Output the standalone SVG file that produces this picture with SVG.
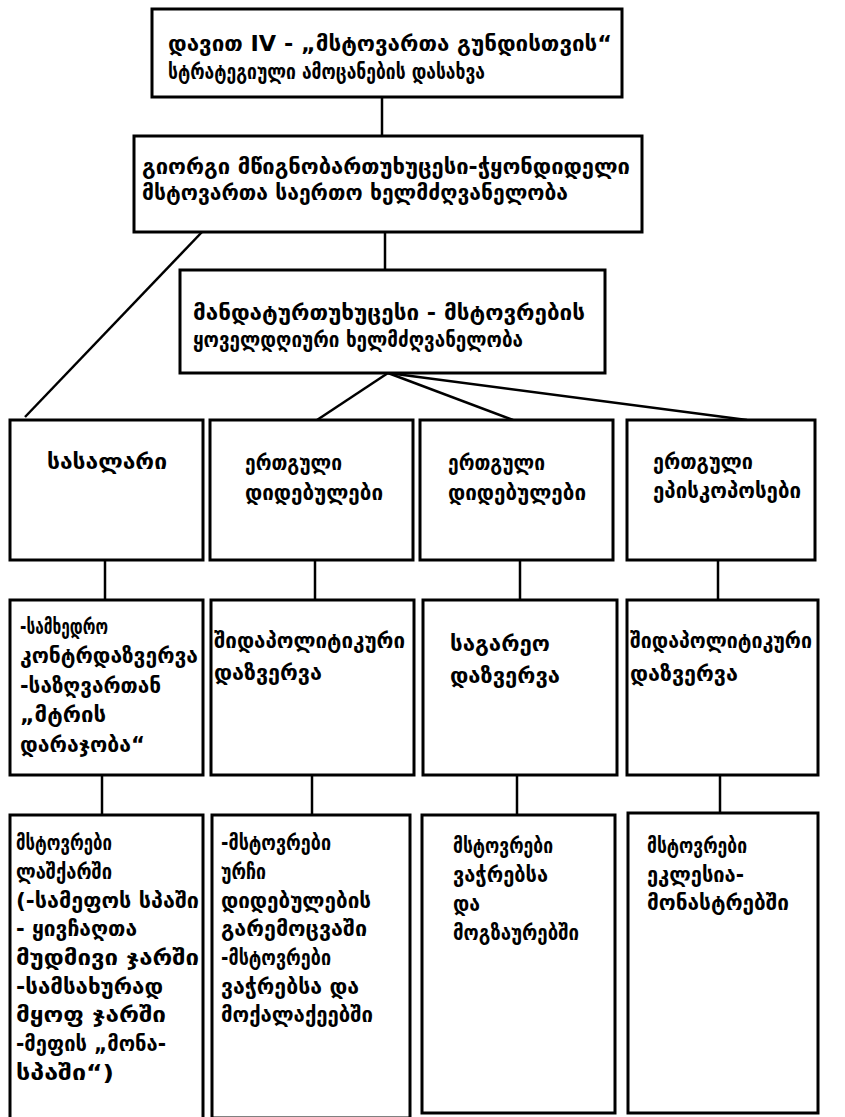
<svg xmlns="http://www.w3.org/2000/svg" width="845" height="1117" viewBox="0 0 845 1117">
<style>
.box{fill:#fff;stroke:#000;stroke-width:3}
.t{font-family:"DejaVu Sans","Noto Sans",sans-serif;font-size:22px;font-weight:bold;fill:#000}
.c{stroke:#000;stroke-width:2.5;fill:none}
</style>
<rect width="845" height="1117" fill="#fff"/>
<g id="connectors">
<line class="c" x1="382" y1="97" x2="382" y2="136"/>
<line class="c" x1="385" y1="232" x2="385" y2="270"/>
<line class="c" x1="202" y1="232" x2="25" y2="417"/>
<line class="c" x1="388" y1="373" x2="317" y2="420"/>
<line class="c" x1="388" y1="373" x2="513" y2="420"/>
<line class="c" x1="388" y1="373" x2="747" y2="420"/>
<line class="c" x1="105" y1="560" x2="105" y2="600"/>
<line class="c" x1="315" y1="560" x2="315" y2="600"/>
<line class="c" x1="520" y1="560" x2="520" y2="600"/>
<line class="c" x1="718" y1="560" x2="718" y2="600"/>
<line class="c" x1="102" y1="775" x2="102" y2="815"/>
<line class="c" x1="312" y1="775" x2="312" y2="815"/>
<line class="c" x1="517" y1="775" x2="517" y2="815"/>
<line class="c" x1="720" y1="775" x2="720" y2="813"/>
</g>
<g id="n1"><rect class="box" x="152" y="9" width="470" height="88"/>
<text class="t" x="168" y="51" textLength="444" lengthAdjust="spacingAndGlyphs">დავით IV - „მსტოვართა გუნდისთვის“</text>
<text class="t" x="168" y="79" textLength="317" lengthAdjust="spacingAndGlyphs">სტრატეგიული ამოცანების დასახვა</text></g>
<g id="n2"><rect class="box" x="134" y="136" width="508" height="96"/>
<text class="t" x="142" y="174" textLength="488" lengthAdjust="spacingAndGlyphs">გიორგი მწიგნობართუხუცესი-ჭყონდიდელი</text>
<text class="t" x="142" y="200" textLength="426" lengthAdjust="spacingAndGlyphs">მსტოვართა საერთო ხელმძღვანელობა</text></g>
<g id="n3"><rect class="box" x="180" y="270" width="425" height="103"/>
<text class="t" x="193" y="320" textLength="392" lengthAdjust="spacingAndGlyphs">მანდატურთუხუცესი - მსტოვრების</text>
<text class="t" x="193" y="347" textLength="330" lengthAdjust="spacingAndGlyphs">ყოველდღიური ხელმძღვანელობა</text></g>
<g id="b1"><rect class="box" x="10" y="420" width="193" height="140"/>
<text class="t" x="47" y="469" textLength="120" lengthAdjust="spacingAndGlyphs">სასალარი</text></g>
<g id="b2"><rect class="box" x="210" y="420" width="203" height="140"/>
<text class="t" x="245" y="470" textLength="97" lengthAdjust="spacingAndGlyphs">ერთგული</text>
<text class="t" x="245" y="500" textLength="138" lengthAdjust="spacingAndGlyphs">დიდებულები</text></g>
<g id="b3"><rect class="box" x="420" y="420" width="193" height="140"/>
<text class="t" x="448" y="470" textLength="97" lengthAdjust="spacingAndGlyphs">ერთგული</text>
<text class="t" x="448" y="500" textLength="138" lengthAdjust="spacingAndGlyphs">დიდებულები</text></g>
<g id="b4"><rect class="box" x="627" y="420" width="188" height="140"/>
<text class="t" x="653" y="469" textLength="100" lengthAdjust="spacingAndGlyphs">ერთგული</text>
<text class="t" x="653" y="498" textLength="148" lengthAdjust="spacingAndGlyphs">ეპისკოპოსები</text></g>
<g id="c1"><rect class="box" x="10" y="600" width="193" height="175"/>
<text class="t" x="20" y="634" textLength="88" lengthAdjust="spacingAndGlyphs">-სამხედრო</text>
<text class="t" x="20" y="663" textLength="178" lengthAdjust="spacingAndGlyphs">კონტრდაზვერვა</text>
<text class="t" x="20" y="693" textLength="141" lengthAdjust="spacingAndGlyphs">-საზღვართან</text>
<text class="t" x="20" y="722" textLength="86" lengthAdjust="spacingAndGlyphs">„მტრის</text>
<text class="t" x="20" y="752" textLength="125" lengthAdjust="spacingAndGlyphs">დარაჯობა“</text></g>
<g id="c2"><rect class="box" x="211" y="600" width="203" height="175"/>
<text class="t" x="214" y="648" textLength="191" lengthAdjust="spacingAndGlyphs">შიდაპოლიტიკური</text>
<text class="t" x="214" y="680" textLength="108" lengthAdjust="spacingAndGlyphs">დაზვერვა</text></g>
<g id="c3"><rect class="box" x="423" y="600" width="194" height="175"/>
<text class="t" x="450" y="651" textLength="100" lengthAdjust="spacingAndGlyphs">საგარეო</text>
<text class="t" x="450" y="683" textLength="110" lengthAdjust="spacingAndGlyphs">დაზვერვა</text></g>
<g id="c4"><rect class="box" x="627" y="600" width="191" height="175"/>
<text class="t" x="630" y="648" textLength="182" lengthAdjust="spacingAndGlyphs">შიდაპოლიტიკური</text>
<text class="t" x="630" y="681" textLength="108" lengthAdjust="spacingAndGlyphs">დაზვერვა</text></g>
<g id="d1"><rect class="box" x="10" y="815" width="193" height="305"/>
<text class="t" x="16" y="850" textLength="96" lengthAdjust="spacingAndGlyphs">მსტოვრები</text>
<text class="t" x="16" y="879" textLength="96" lengthAdjust="spacingAndGlyphs">ლაშქარში</text>
<text class="t" x="16" y="908" textLength="183" lengthAdjust="spacingAndGlyphs">(-სამეფოს სპაში</text>
<text class="t" x="16" y="936" textLength="121" lengthAdjust="spacingAndGlyphs">- ყივჩაღთა</text>
<text class="t" x="16" y="965" textLength="183" lengthAdjust="spacingAndGlyphs">მუდმივი ჯარში</text>
<text class="t" x="16" y="994" textLength="147" lengthAdjust="spacingAndGlyphs">-სამსახურად</text>
<text class="t" x="16" y="1022" textLength="150" lengthAdjust="spacingAndGlyphs">მყოფ ჯარში</text>
<text class="t" x="16" y="1051" textLength="150" lengthAdjust="spacingAndGlyphs">-მეფის „მონა-</text>
<text class="t" x="16" y="1080" textLength="98" lengthAdjust="spacingAndGlyphs">სპაში“)</text></g>
<g id="d2"><rect class="box" x="212" y="815" width="198" height="303"/>
<text class="t" x="221" y="850" textLength="110" lengthAdjust="spacingAndGlyphs">-მსტოვრები</text>
<text class="t" x="221" y="879" textLength="45" lengthAdjust="spacingAndGlyphs">ურჩი</text>
<text class="t" x="221" y="908" textLength="150" lengthAdjust="spacingAndGlyphs">დიდებულების</text>
<text class="t" x="221" y="936" textLength="146" lengthAdjust="spacingAndGlyphs">გარემოცვაში</text>
<text class="t" x="221" y="965" textLength="110" lengthAdjust="spacingAndGlyphs">-მსტოვრები</text>
<text class="t" x="221" y="994" textLength="138" lengthAdjust="spacingAndGlyphs">ვაჭრებსა და</text>
<text class="t" x="221" y="1022" textLength="152" lengthAdjust="spacingAndGlyphs">მოქალაქეებში</text></g>
<g id="d3"><rect class="box" x="422" y="815" width="193" height="298"/>
<text class="t" x="453" y="853" textLength="100" lengthAdjust="spacingAndGlyphs">მსტოვრები</text>
<text class="t" x="453" y="882" textLength="95" lengthAdjust="spacingAndGlyphs">ვაჭრებსა</text>
<text class="t" x="453" y="911" textLength="27" lengthAdjust="spacingAndGlyphs">და</text>
<text class="t" x="453" y="940" textLength="126" lengthAdjust="spacingAndGlyphs">მოგზაურებში</text></g>
<g id="d4"><rect class="box" x="628" y="813" width="190" height="300"/>
<text class="t" x="647" y="853" textLength="100" lengthAdjust="spacingAndGlyphs">მსტოვრები</text>
<text class="t" x="647" y="882" textLength="97" lengthAdjust="spacingAndGlyphs">ეკლესია-</text>
<text class="t" x="647" y="910" textLength="142" lengthAdjust="spacingAndGlyphs">მონასტრებში</text></g>
</svg>
